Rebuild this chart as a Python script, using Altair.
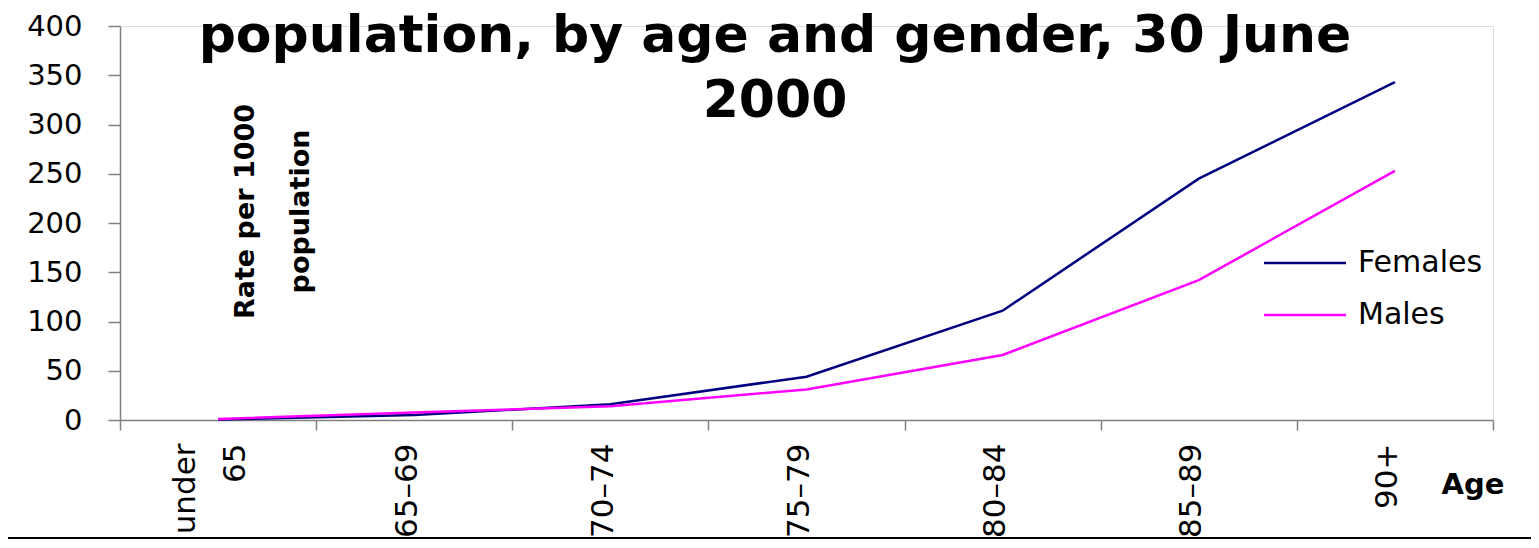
import altair as alt
import pandas as pd

ages = ["under 65", "65–69", "70–74", "75–79", "80–84", "85–89", "90+"]
females = [0.5, 5, 16, 44, 111, 245, 343]
males = [1, 7.5, 14, 31, 66, 142, 253]
series = ["Females", "Males"]
colors = ["#000080", "#FF00FF"]
y_ticks = [0, 50, 100, 150, 200, 250, 300, 350, 400]
title_lines = ["population, by age and gender, 30 June", "2000"]

rows = []
for a, f, m in zip(ages, females, males):
    rows.append({"age": a, "series": "Females", "rate": f})
    rows.append({"age": a, "series": "Males", "rate": m})
df = pd.DataFrame(rows)

W, H = 1373, 394

lines = alt.Chart(df).mark_line(strokeWidth=2.5).encode(
    x=alt.X(
        "age:N",
        sort=ages,
        scale=alt.Scale(paddingInner=0, paddingOuter=0),
        axis=alt.Axis(
            title="Age",
            titleFont="DejaVu Sans",
            titleFontSize=29,
            titleFontWeight="bold",
            titleColor="#000000",
            titleAngle=0,
            titleAlign="left",
            titleBaseline="alphabetic",
            titleX=1321,
            titleY=73,
            labelAngle=270,
            labelAlign="right",
            labelBaseline="middle",
            labelFont="DejaVu Sans",
            labelFontSize=31,
            labelColor="#000000",
            labelLineHeight=50,
            labelOffset={"condition": {"test": "datum.value == 'under 65'", "value": -33}, "value": -7},
            labelPadding=13,
            labelExpr="datum.label == 'under 65' ? ['under', '65'] : datum.label",
            tickBand="extent",
            tickSize=10,
            tickColor="#808080",
            tickWidth=1.5,
            domainColor="#808080",
            domainWidth=1.5,
            grid=False,
        ),
    ),
    y=alt.Y(
        "rate:Q",
        scale=alt.Scale(domain=[0, 400], nice=False),
        axis=alt.Axis(
            values=y_ticks,
            title=["Rate per 1000", "population"],
            titleFont="DejaVu Sans",
            titleFontSize=27,
            titleFontWeight="bold",
            titleColor="#000000",
            titleAngle=270,
            titleAlign="center",
            titleBaseline="middle",
            titleLineHeight=55,
            titleX=125,
            titleY=185,
            labelFont="DejaVu Sans",
            labelFontSize=29,
            labelColor="#000000",
            labelPadding=26,
            tickSize=12,
            tickColor="#808080",
            tickWidth=1.5,
            domainColor="#808080",
            domainWidth=1.5,
            grid=False,
        ),
    ),
    color=alt.Color(
        "series:N",
        scale=alt.Scale(domain=series, range=colors),
        legend=alt.Legend(
            title=None,
            orient="none",
            legendX=1170,
            legendY=222,
            symbolType="M-4,0H4",
            symbolSize=420,
            symbolStrokeWidth=2.5,
            labelFont="DejaVu Sans",
            labelFontSize=30,
            labelColor="#000000",
            labelOffset=38,
            rowPadding=22,
            padding=0,
        ),
    ),
)

title = alt.Chart(pd.DataFrame({"k": [0]})).mark_text(
    font="DejaVu Sans",
    fontSize=52,
    fontWeight="bold",
    color="#000000",
    align="center",
    baseline="alphabetic",
    lineHeight=65,
    clip=False,
).encode(
    x=alt.value(655), y=alt.value(26), text=alt.value(title_lines)
)

bottom_rule = alt.Chart(pd.DataFrame({"k": [0]})).mark_rule(
    color="#000000", strokeWidth=2, clip=False
).encode(
    x=alt.value(-120), x2=alt.value(1420), y=alt.value(512)
)

chart = alt.layer(lines, title, bottom_rule).properties(
    width=W,
    height=H,
    padding={"left": 112, "top": 18, "right": 38, "bottom": 120},
    autosize=alt.AutoSizeParams(type="none"),
).configure_view(stroke=None).configure(background="#ffffff")

chart.save("out.html", embed_options={"renderer": "svg", "actions": False})
